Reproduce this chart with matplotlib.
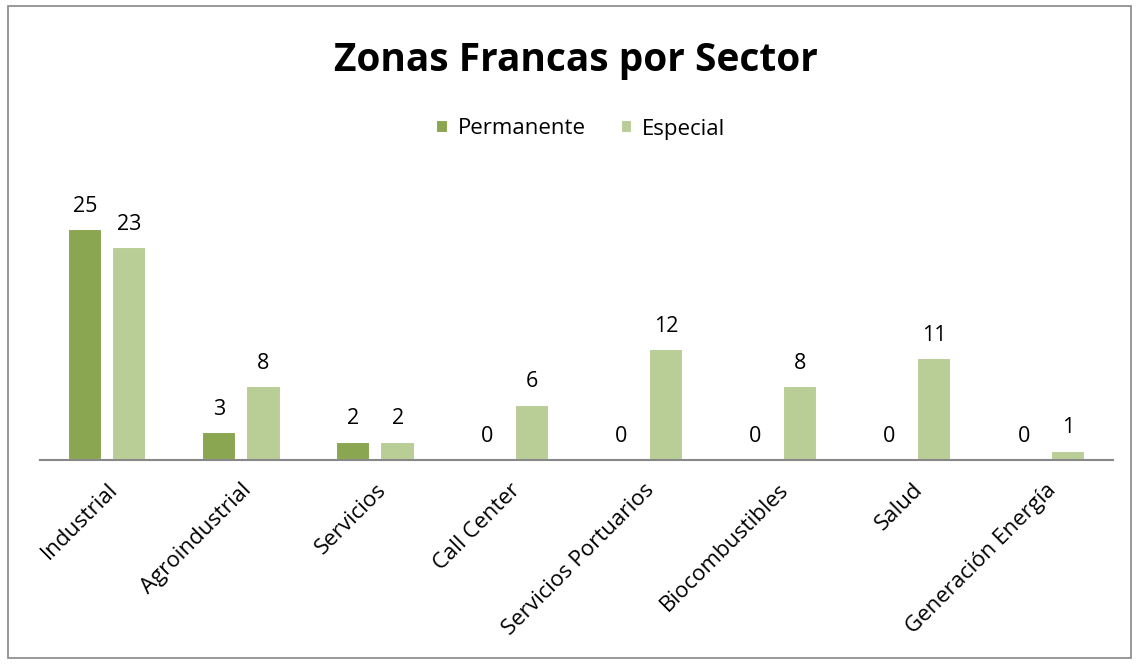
import matplotlib
matplotlib.use("Agg")
import matplotlib.pyplot as plt
import numpy as np
from matplotlib.patches import Rectangle

categories = ["Industrial", "Agroindustrial", "Servicios", "Call Center",
              "Servicios Portuarios", "Biocombustibles", "Salud", "Generación Energía"]
permanente = [25, 3, 2, 0, 0, 0, 0, 0]
especial = [23, 8, 2, 6, 12, 8, 11, 1]
series_names = ["Permanente", "Especial"]
colors = ["#8BA650", "#B9CD96"]

plt.rcParams['font.family'] = ['Open Sans', 'DejaVu Sans']

W, H = 1139, 664
fig = plt.figure(figsize=(W / 100, H / 100), dpi=100)
fig.patches.append(Rectangle((8 / W, 6 / H), (1131 - 8) / W, (658 - 6) / H,
                             transform=fig.transFigure, fill=False,
                             edgecolor="#888888", linewidth=1.2))

ax_left, ax_right = 40, 1113
base_y = 460
ymax = 25 * (base_y - 183) / (base_y - 229)
ax = fig.add_axes([ax_left / W, (H - base_y) / H, (ax_right - ax_left) / W, (base_y - 183) / H])

x = np.arange(len(categories))
off = 0.166
bw = 0.255
for vals, name, col, o in [(permanente, series_names[0], colors[0], -off),
                           (especial, series_names[1], colors[1], off)]:
    ax.bar(x + o, vals, width=bw, color=col, edgecolor="white",
           linewidth=1.5, label=name, zorder=3)
    for xi, v in zip(x + o, vals):
        ax.annotate(str(v), (xi, v), xytext=(0, 9), textcoords="offset points",
                    ha="center", va="bottom", fontsize=15.5, color="black")

ax.set_xlim(-0.5, len(categories) - 0.5)
ax.set_ylim(0, ymax)
for s in ["top", "right", "left"]:
    ax.spines[s].set_visible(False)
ax.spines["bottom"].set_color("#888888")
ax.spines["bottom"].set_linewidth(1.5)
ax.spines["bottom"].set_zorder(5)
ax.set_yticks([])
ax.set_xticks(x)
ax.set_xticklabels(categories, rotation=45, ha="right", rotation_mode="anchor",
                   fontsize=16)
ax.tick_params(axis="x", length=0, pad=14)

fig.text(576 / W, 1 - 60 / H, "Zonas Francas por Sector", ha="center", va="center",
         fontsize=28, fontweight="bold")
fig.legend(loc="center", bbox_to_anchor=(581 / W, 1 - 129 / H), ncol=2,
           frameon=False, fontsize=16, handlelength=0.5, handleheight=0.5,
           handletextpad=0.45, columnspacing=1.6)

fig.savefig("out.png", dpi=100)
